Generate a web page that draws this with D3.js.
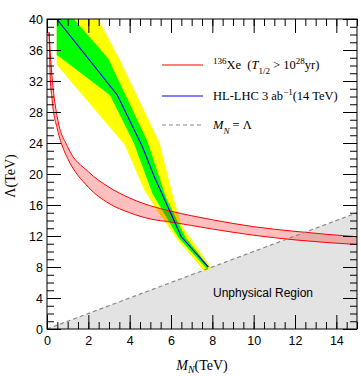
<!DOCTYPE html>
<html>
<head>
<meta charset="utf-8">
<script src="https://cdn.jsdelivr.net/npm/d3@7"></script>
<style>
  body { margin: 0; background: #fff; }
  svg { display: block; }
</style>
</head>
<body>
<div id="chart"></div>
<script>
// axis ranges and tick labels
const xTicks = [0, 2, 4, 6, 8, 10, 12, 14];
const yTicks = [0, 4, 8, 12, 16, 20, 24, 28, 32, 36, 40];

// 136Xe bound, upper and lower edge  [M_N, Lambda]
const xeUpper = [[0.1, 38.3], [0.2, 34], [0.3, 31], [0.5, 27.3], [1.0, 23.5], [2.0, 20.3], [3.0, 18.3],
  [4.0, 16.9], [5.0, 15.9], [6.0, 15.2], [8, 14.1], [10, 13.2], [12, 12.6], [15, 11.9]];
const xeLower = [[0.1, 38.3], [0.12, 36], [0.15, 33], [0.25, 29.5], [0.5, 25.8], [0.8, 23.2], [1.0, 22.0],
  [2.0, 18.3], [3.0, 16.2], [4.0, 15.0], [5.0, 14.2], [6.0, 13.8], [8, 12.9], [10, 12.1], [12, 11.5], [15, 10.9]];

// HL-LHC reach, central line
const lhcCentral = [[0.47, 40], [3.4, 30.2], [4.6, 23.6], [5.2, 19.6], [6.5, 11.9], [7.8, 8.0]];
// 2 sigma band (yellow) outline
const yellowRight = [[2.48, 40], [3.53, 34.7], [5.45, 24.0], [6.1, 17.1], [6.5, 13.4], [6.9, 11.9], [7.95, 7.9]];
const yellowLeft = [[7.6, 7.5], [6.26, 11.7], [5.2, 15.8], [4.7, 18.0], [3.75, 23.8], [0.47, 34.1], [0.47, 40]];
// 1 sigma band (green) outline
const greenRight = [[1.3, 40], [2.96, 34.9], [4.85, 24.3], [5.75, 17.0], [6.7, 11.8], [7.85, 8.0]];
const greenLeft = [[7.72, 7.8], [6.35, 11.8], [5.1, 17.5], [4.2, 24.0], [3.04, 30.2], [0.47, 35.4], [0.47, 40]];

const W = 361, H = 376;
const margin = {left: 47, top: 19, right: 4, bottom: 47};
const pw = 310, ph = 310;

const svg = d3.select("#chart").append("svg")
  .attr("width", W).attr("height", H);

const x = d3.scaleLinear().domain([0, 15]).range([margin.left, margin.left + pw]);
const y = d3.scaleLinear().domain([0, 40]).range([margin.top + ph, margin.top]);

svg.append("clipPath").attr("id", "clip")
  .append("rect")
  .attr("x", margin.left).attr("y", margin.top)
  .attr("width", pw).attr("height", ph);

const plot = svg.append("g").attr("clip-path", "url(#clip)");

const line = d3.line().x(d => x(d[0])).y(d => y(d[1]));

// unphysical region M_N > Lambda
plot.append("path")
  .attr("d", line([[0, 0], [15, 15], [15, 0]]) + "Z")
  .attr("fill", "#e3e3e3");

plot.append("path")
  .attr("d", line(yellowRight.concat(yellowLeft)) + "Z")
  .attr("fill", "#ffff00");

plot.append("path")
  .attr("d", line(greenRight.concat(greenLeft)) + "Z")
  .attr("fill", "#00ff00");

// Xe band
const curve = d3.line().x(d => x(d[0])).y(d => y(d[1])).curve(d3.curveMonotoneX);

plot.append("path")
  .attr("d", curve(xeUpper) + "L" + curve(xeLower.slice().reverse()).slice(1) + "Z")
  .attr("fill", "rgba(255,0,0,0.25)");

[xeUpper, xeLower].forEach(e => {
  plot.append("path").attr("d", curve(e))
    .attr("fill", "none").attr("stroke", "#ff0000").attr("stroke-width", 1);
});

plot.append("path").attr("d", line(lhcCentral))
  .attr("fill", "none").attr("stroke", "#0000ff").attr("stroke-width", 1.2);

plot.append("path").attr("d", line([[0, 0], [15, 15]]))
  .attr("fill", "none").attr("stroke", "#888").attr("stroke-width", 1.2)
  .attr("stroke-dasharray", "4,3");

plot.append("text")
  .attr("x", 263).attr("y", 297)
  .attr("text-anchor", "middle")
  .style("font-family", "Liberation Sans, Arial, sans-serif")
  .style("font-size", "12px")
  .text("Unphysical Region");

// axes, ticks pointing inward on all four sides
const tickFont = g => g.selectAll("text")
  .style("font-family", "Liberation Sans, Arial, sans-serif")
  .style("font-size", "12.5px").attr("fill", "#000");

function addAxis(axisFn, scale, transform, major, minor, labels) {
  svg.append("g").attr("transform", transform)
    .call(axisFn(scale).tickValues(minor).tickSize(-7).tickFormat(""))
    .call(g => g.select(".domain").remove());
  const g = svg.append("g").attr("transform", transform)
    .call(axisFn(scale).tickValues(major).tickSize(-14).tickPadding(labels ? 5 : 0)
      .tickFormat(labels ? d3.format("d") : ""))
    .call(g => g.select(".domain").remove());
  g.call(tickFont);
  return g;
}

const xMinor = d3.range(0, 15.01, 0.5);
const yMinor = d3.range(0, 40.01, 1);

addAxis(d3.axisBottom, x, `translate(0,${margin.top + ph})`, xTicks, xMinor, true)
  .selectAll("text").attr("y", 7);
addAxis(d3.axisTop, x, `translate(0,${margin.top})`, xTicks, xMinor, false);
addAxis(d3.axisLeft, y, `translate(${margin.left},0)`, yTicks, yMinor, true)
  .selectAll("text").attr("x", -4);
addAxis(d3.axisRight, y, `translate(${margin.left + pw},0)`, yTicks, yMinor, false);

svg.selectAll(".tick line").attr("stroke", "#000");

svg.append("rect")
  .attr("x", margin.left).attr("y", margin.top)
  .attr("width", pw).attr("height", ph)
  .attr("fill", "none").attr("stroke", "#000").attr("stroke-width", 1);

// axis titles
const serif = "Liberation Serif, 'Times New Roman', serif";
const xt = svg.append("text")
  .attr("x", 202).attr("y", 370)
  .attr("text-anchor", "middle")
  .style("font-family", serif).style("font-size", "14px");
xt.append("tspan").style("font-style", "italic").text("M");
xt.append("tspan").attr("baseline-shift", "-25%").style("font-size", "10px").style("font-style", "italic").text("N");
xt.append("tspan").text("(TeV)");

svg.append("text")
  .attr("transform", "translate(15,176) rotate(-90)")
  .attr("text-anchor", "middle")
  .style("font-family", serif).style("font-size", "14px")
  .text("Λ(TeV)");

// legend
const legend = svg.append("g").style("font-family", serif).style("font-size", "12.5px");
const legX0 = 162, legX1 = 203, legT = 213;
const sup = "9px";

legend.append("line").attr("x1", legX0).attr("x2", legX1).attr("y1", 65).attr("y2", 65)
  .attr("stroke", "#ff0000").attr("stroke-width", 1.2);
const t1 = legend.append("text").attr("x", legT).attr("y", 69);
t1.append("tspan").attr("baseline-shift", "super").style("font-size", sup).text("136");
t1.append("tspan").text("Xe\u2002(");
t1.append("tspan").style("font-style", "italic").text("T");
t1.append("tspan").attr("baseline-shift", "sub").style("font-size", sup).text("1/2");
t1.append("tspan").text(" > 10");
t1.append("tspan").attr("baseline-shift", "super").style("font-size", sup).text("28");
t1.append("tspan").text("yr)");

legend.append("line").attr("x1", legX0).attr("x2", legX1).attr("y1", 96).attr("y2", 96)
  .attr("stroke", "#0000ff").attr("stroke-width", 1.2);
const t2 = legend.append("text").attr("x", legT).attr("y", 100);
t2.append("tspan").text("HL-LHC 3 ab");
t2.append("tspan").attr("baseline-shift", "super").style("font-size", sup).text("−1");
t2.append("tspan").text("(14 TeV)");

legend.append("line").attr("x1", legX0).attr("x2", legX1).attr("y1", 125).attr("y2", 125)
  .attr("stroke", "#888").attr("stroke-width", 1.2).attr("stroke-dasharray", "4,3");
const t3 = legend.append("text").attr("x", legT).attr("y", 129);
t3.append("tspan").style("font-style", "italic").text("M");
t3.append("tspan").attr("baseline-shift", "sub").style("font-size", sup).style("font-style", "italic").text("N");
t3.append("tspan").text(" = Λ");
</script>
</body>
</html>
